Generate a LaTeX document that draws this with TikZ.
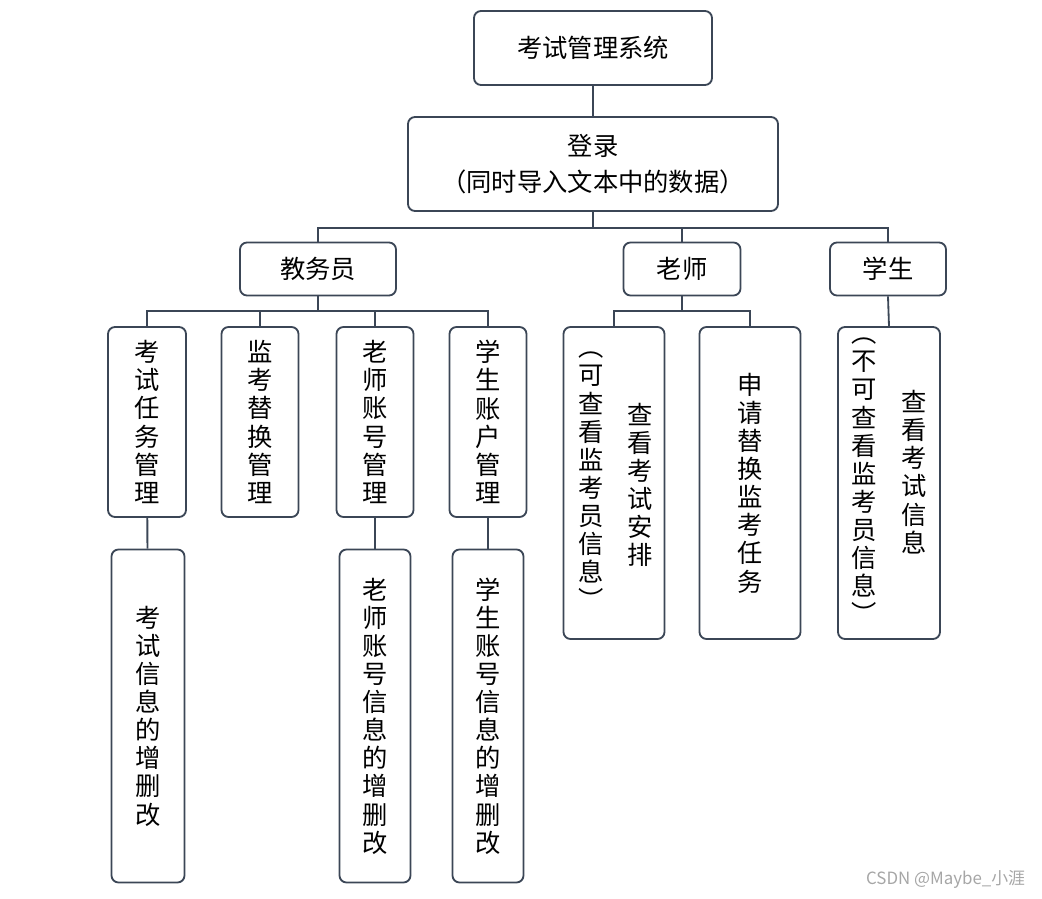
\documentclass[tikz,border=0pt]{standalone}
\usepackage{fontspec}
\setmainfont{Noto Sans CJK SC}
\tikzset{
  box/.style={draw=boxline, line width=1.3pt, rounded corners=5pt, inner sep=0pt,
    align=center, font=\fontsize{18}{20}\selectfont},
  col/.style={align=center, inner sep=0pt, font=\fontsize{18}{20}\selectfont},
  link/.style={draw=boxline, line width=1.3pt},
}
\definecolor{boxline}{HTML}{3B4656}
\begin{document}
\begin{tikzpicture}[x=0.025cm,y=-0.025cm]
\useasboundingbox (0,0) rectangle (1042,899);
% top levels
\node[box, minimum width=238*0.025cm, minimum height=74*0.025cm] (sys) at (593,48) {考试管理系统};
\node[box, minimum width=370*0.025cm, minimum height=94*0.025cm] (login) at (593,164) {登录\\[6pt]（同时导入文本中的数据）};
\node[box, minimum width=156*0.025cm, minimum height=53*0.025cm] (jwy) at (318,269) {教务员};
\node[box, minimum width=117*0.025cm, minimum height=53*0.025cm] (ls) at (682,269) {老师};
\node[box, minimum width=116*0.025cm, minimum height=53*0.025cm] (xs) at (888,269) {学生};
% jiaowuyuan leaves
\node[box, minimum width=78*0.025cm, minimum height=190*0.025cm] (ks) at (147,422) {考\\试\\任\\务\\管\\理};
\node[box, minimum width=77*0.025cm, minimum height=190*0.025cm] (jk) at (260,422) {监\\考\\替\\换\\管\\理};
\node[box, minimum width=77*0.025cm, minimum height=190*0.025cm] (lz) at (375,422) {老\\师\\账\\号\\管\\理};
\node[box, minimum width=77*0.025cm, minimum height=190*0.025cm] (xz) at (488,422) {学\\生\\账\\户\\管\\理};
\node[box, minimum width=73*0.025cm, minimum height=333*0.025cm] (ksx) at (148,716) {考\\试\\信\\息\\的\\增\\删\\改};
\node[box, minimum width=71*0.025cm, minimum height=333*0.025cm] (lzx) at (375,716) {老\\师\\账\\号\\信\\息\\的\\增\\删\\改};
\node[box, minimum width=71*0.025cm, minimum height=333*0.025cm] (xzx) at (488,716) {学\\生\\账\\号\\信\\息\\的\\增\\删\\改};
% teacher / student leaves
\node[box, minimum width=101*0.025cm, minimum height=312*0.025cm] (ck) at (614,483) {};
\node[col] (ck1) at (640,485) {查\\看\\考\\试\\安\\排};
\node[col] (ck2) at (591,481) {︵\\可\\查\\看\\监\\考\\员\\信\\息\\︶};
\node[box, minimum width=101*0.025cm, minimum height=312*0.025cm] (sq) at (750,483) {申\\请\\替\\换\\监\\考\\任\\务};
\node[box, minimum width=102*0.025cm, minimum height=312*0.025cm] (cx) at (889,483) {};
\node[col] (cx1) at (914,472) {查\\看\\考\\试\\信\\息};
\node[col] (cx2) at (864,481) {︵\\不\\可\\查\\看\\监\\考\\员\\信\\息\\︶};
% connectors
\draw[link] (sys) -- (login);
\draw[link] (login.south) -- ++(0,16) -| (jwy.north);
\draw[link] (login.south) -- ++(0,16) -| (ls.north);
\draw[link] (login.south) -- ++(0,16) -| (xs.north);
\foreach \n in {ks,jk,lz,xz}
  \draw[link] (jwy.south) -- ++(0,15) -| (\n.north);
\draw[link] (ls.south) -- ++(0,15) -| (ck.north);
\draw[link] (ls.south) -- ++(0,15) -| (sq.north);
\draw[link] (xs.south) -- (cx.north);
\draw[link] (ks) -- (ksx);
\draw[link] (lz) -- (lzx);
\draw[link] (xz) -- (xzx);
\node[text=black!35, font=\fontsize{12}{14}\selectfont, anchor=east] (wm) at (1030,879) {CSDN @Maybe\_小涯};
\end{tikzpicture}
\end{document}
